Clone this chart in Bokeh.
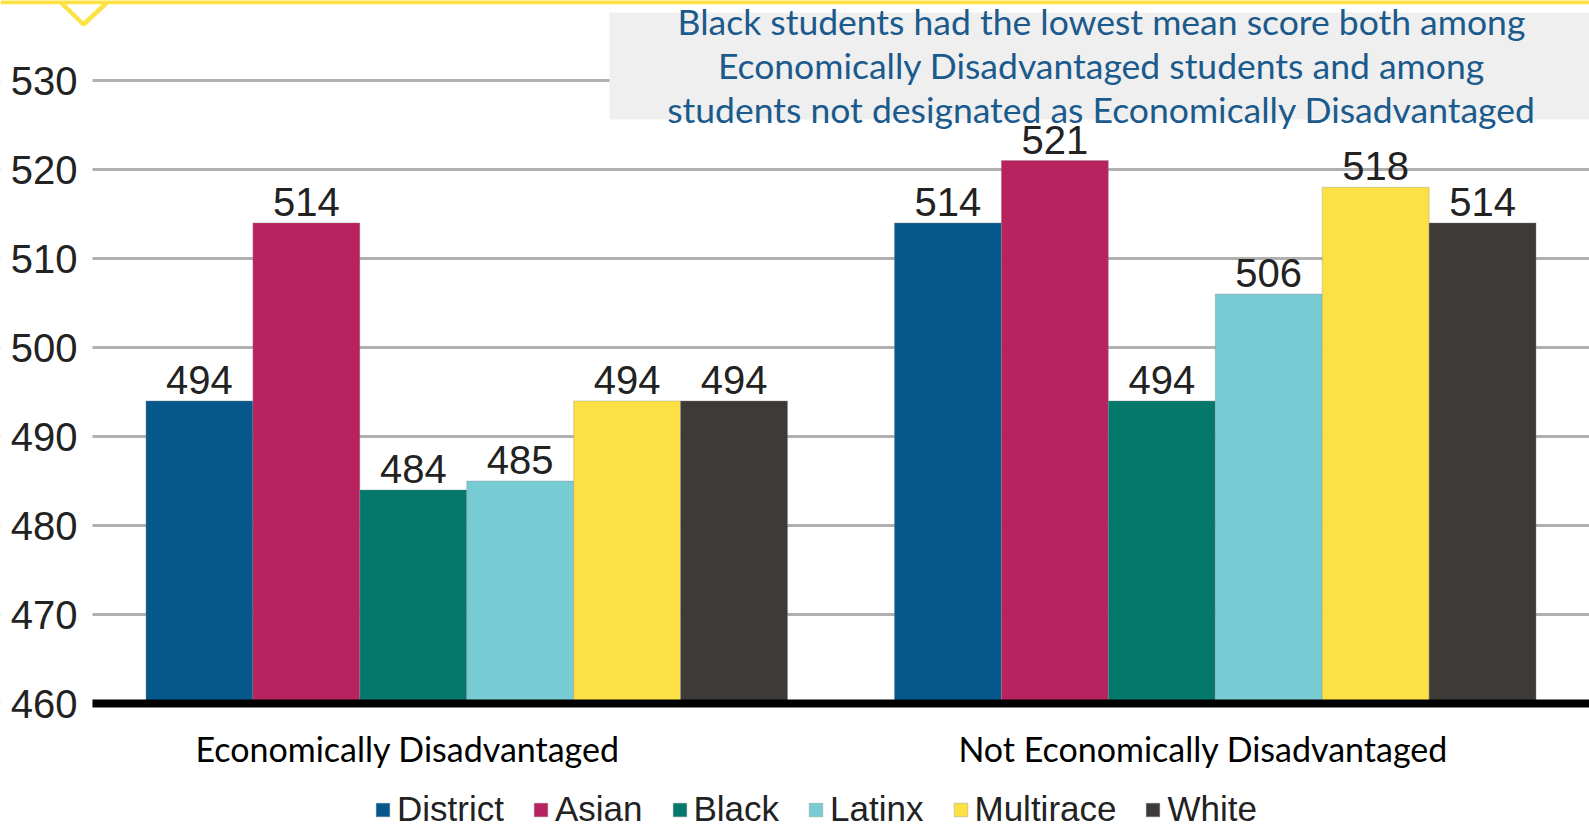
from bokeh.plotting import figure
from bokeh.models import (Range1d, FixedTicker, Legend, LegendItem, BoxAnnotation,
                          PolyAnnotation, Label, ColumnDataSource)
from bokeh.transform import dodge
from bokeh.core.properties import value
from bokeh.embed import file_html
from bokeh.resources import INLINE

groups = ["Economically Disadvantaged", "Not Economically Disadvantaged"]
group_index = [0, 1]
group_label_pos = [-0.079, 0.984]
races = ["District", "Asian", "Black", "Latinx", "Multirace", "White"]
district = [494, 514]
asian = [514, 521]
black = [484, 494]
latinx = [485, 506]
multirace = [494, 518]
white = [494, 514]
series = [district, asian, black, latinx, multirace, white]
colors = ["#06588c", "#b8225f", "#04796b", "#77cbd3", "#fde044", "#3e3a37"]
y_ticks = [460, 470, 480, 490, 500, 510, 520, 530]
note_lines = [
    "Black students had the lowest mean score both among",
    "Economically Disadvantaged students and among",
    "students not designated as Economically Disadvantaged",
]

W, H = 1589, 829
PX_X = 748.5          # pixels per group
PX_Y = 8.9            # pixels per score point
X0 = -0.5 - 92 / PX_X
Y1 = 530 + 80 / PX_Y
Y0 = 460 - (H - 703) / PX_Y
p = figure(width=W, height=H, x_range=Range1d(X0, 1.5), y_range=Range1d(Y0, Y1),
           output_backend="svg", toolbar_location=None,
           min_border_left=0, min_border_right=0, min_border_top=0, min_border_bottom=0)
p.outline_line_color = None
p.background_fill_color = "white"
p.border_fill_color = "white"

n = len(races)
bw = 1.0 / (n + 1)
items = []
for i, (race, vals, col) in enumerate(zip(races, series, colors)):
    src = ColumnDataSource(dict(g=group_index, v=vals, lbl=[str(v) for v in vals]))
    off = (i - (n - 1) / 2) * bw
    r = p.vbar(x=dodge("g", off, range=p.x_range), top="v", bottom=460, width=bw,
               source=src, fill_color=col, line_color="#8a8a8a", line_width=0.6, line_alpha=0.6)
    p.text(x=dodge("g", off, range=p.x_range), y="v", text="lbl", source=src,
           text_align="center", text_baseline="bottom", y_offset=-7,
           text_font=value("Liberation Sans"), text_font_size="40px", text_color="#222222")
    items.append(LegendItem(label=race, renderers=[r]))

# white cover left of plotting area (keeps gridlines starting at the axis)
p.add_layout(BoxAnnotation(left=0, right=92, top=0, bottom=H,
                           left_units="canvas", right_units="canvas",
                           top_units="canvas", bottom_units="canvas",
                           fill_color="white", fill_alpha=1, line_color=None, level="glyph"))

# axes
p.yaxis.fixed_location = -0.5
p.yaxis.ticker = FixedTicker(ticks=y_ticks)
p.ygrid.ticker = FixedTicker(ticks=y_ticks)
p.ygrid.grid_line_color = "#b0b0b0"
p.ygrid.grid_line_width = 3
p.xgrid.grid_line_color = None
p.yaxis.axis_line_color = None
p.yaxis.major_tick_line_color = None
p.yaxis.minor_tick_line_color = None
p.yaxis.major_label_text_font = "Liberation Sans"
p.yaxis.major_label_text_font_size = "40px"
p.yaxis.major_label_text_color = "#222222"
p.yaxis.major_label_standoff = 9

p.xaxis.fixed_location = 460
p.xaxis.ticker = FixedTicker(ticks=group_label_pos)
p.xaxis.major_label_overrides = {x: g for x, g in zip(group_label_pos, groups)}
p.xaxis.bounds = (-0.5, 1.5)
p.xaxis.axis_line_color = "black"
p.xaxis.axis_line_width = 8
p.xaxis.major_tick_line_color = None
p.xaxis.minor_tick_line_color = None
p.xaxis.major_label_text_font = "Lato"
p.xaxis.major_label_text_font_size = "34px"
p.xaxis.major_label_text_color = "black"
p.xaxis.major_label_standoff = 18

legend = Legend(items=items, orientation="horizontal", location=(374, 0),
                label_text_font="Liberation Sans", label_text_font_size="35px",
                label_text_color="#222222", glyph_width=17, glyph_height=17,
                spacing=28, label_standoff=6, padding=0, margin=0,
                border_line_color=None, background_fill_alpha=0)
p.add_layout(legend)

# note box
p.add_layout(BoxAnnotation(left=609, right=1589, top=12, bottom=119,
                           left_units="canvas", right_units="canvas",
                           top_units="canvas", bottom_units="canvas",
                           fill_color="#efefef", fill_alpha=1, line_color=None))
for k, line in enumerate(note_lines):
    p.add_layout(Label(x=0.848, y=536.6 - k * 4.95, text=line, text_align="center",
                       text_baseline="middle", text_font="Lato", text_font_size="35.5px",
                       text_color="#1b5a8c"))

# top yellow line with chevron
p.add_layout(PolyAnnotation(xs=[0, 60, 83, 107, 1589], ys=[1.5, 1.5, 24, 1.5, 1.5],
                            xs_units="canvas", ys_units="canvas",
                            fill_alpha=0, line_color="#fde245", line_alpha=1, line_width=4.5))

open("out.html", "w").write(file_html(p, INLINE))
